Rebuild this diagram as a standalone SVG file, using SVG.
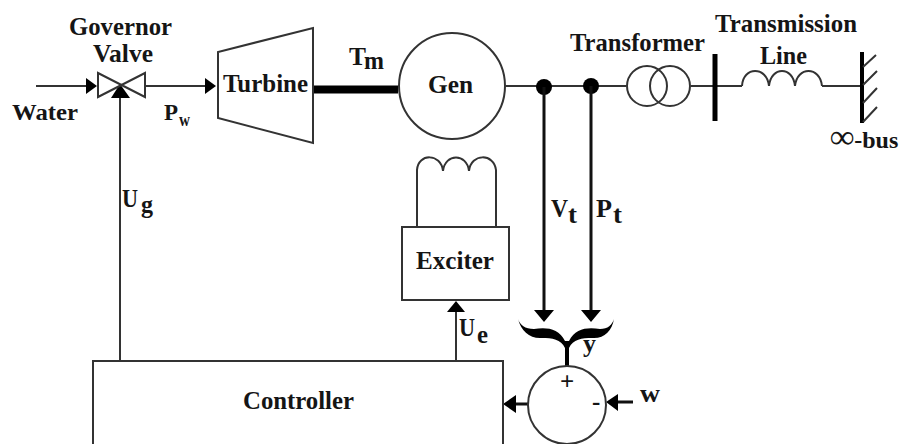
<svg xmlns="http://www.w3.org/2000/svg" width="901" height="444" viewBox="0 0 901 444">
<style>
.l{fill:none;stroke:#333;stroke-width:2}
.n{fill:#fff;stroke:#333;stroke-width:2}
.t{fill:none;stroke:#111;stroke-width:3}
.a{fill:#000;stroke:none}
text{font-family:"Liberation Serif","Times New Roman",serif;font-weight:bold;fill:#151515;font-size:25px}
.s{font-size:18px}
.m{font-size:23px}
</style>
<defs>
<path id="hr" class="a" d="M0,0 L-11,-8 L-11,8 Z"/>
</defs>
<rect width="901" height="444" fill="#fff"/>
<g id="connectors">
<path class="l" d="M36,86H88M145,86H206"/>
<use href="#hr" x="97" y="86"/>
<use href="#hr" x="216" y="86"/>
<path d="M313,89.500H398" fill="none" stroke="#000" stroke-width="8"/>
<path class="l" d="M506,86H626M691,86H742M822,86H862"/>
<circle class="a" cx="544" cy="87" r="8"/>
<circle class="a" cx="591" cy="86" r="8"/>
<path class="t" d="M544,87V312M591,86V312"/>
<path class="a" d="M534,310H554L544,322Z M581,310H601L591,322Z"/>
<path class="l" d="M120,361V96"/>
<path class="a" d="M120,84L130,98H111Z"/>
<path class="l" d="M456,361V310"/>
<path class="a" d="M456,301L465,312H447Z"/>
<path class="a" d="M518,319C520,325 525,329 534,329C546,327 559,328 565,341L569,341C575,328 588,327 600,329C608,329 612,325 614,319C612,331 604,339 592,338C582,338 573,339 569,348V366H565V348C561,339 552,338 542,338C530,339 521,331 518,319Z"/>
<path class="t" d="M528,404H512M633,402H616"/>
<path class="a" d="M503,404L516,395V413Z M606,402L618,394V411Z"/>
</g>
<g id="valve">
<path class="l" d="M98,73L145,97V73L98,97Z"/>
<text x="69" y="35" textLength="103" lengthAdjust="spacingAndGlyphs">Governor</text>
<text x="93" y="62" textLength="60" lengthAdjust="spacingAndGlyphs">Valve</text>
</g>
<g id="water"><text class="m" x="12" y="120" textLength="66" lengthAdjust="spacingAndGlyphs">Water</text></g>
<g id="pw"><text class="m" x="164" y="120">P</text><text class="s" x="179" y="126" textLength="11" lengthAdjust="spacingAndGlyphs">w</text></g>
<g id="turbine">
<path class="l" d="M218,118V52L313,28V143Z"/>
<text x="223" y="92" textLength="85" lengthAdjust="spacingAndGlyphs">Turbine</text>
</g>
<g id="tm"><text x="349" y="65" textLength="17" lengthAdjust="spacingAndGlyphs">T</text><text x="364" y="69" textLength="20" lengthAdjust="spacingAndGlyphs">m</text></g>
<g id="generator">
<circle class="n" cx="452" cy="86" r="53"/>
<text x="428" y="93" textLength="45" lengthAdjust="spacingAndGlyphs">Gen</text>
</g>
<g id="transformer">
<circle class="l" cx="647" cy="86" r="20"/>
<circle class="l" cx="670" cy="86" r="20"/>
<text x="570" y="51" textLength="135" lengthAdjust="spacingAndGlyphs">Transformer</text>
</g>
<g id="bus"><path d="M715,54V121" fill="none" stroke="#000" stroke-width="5"/></g>
<g id="line">
<path class="l" d="M742,86C743,66 767,66 769,86C771,66 793,66 795,86C797,66 820,66 822,86"/>
<text x="715" y="32" textLength="142" lengthAdjust="spacingAndGlyphs">Transmission</text>
<text x="760" y="64" textLength="47" lengthAdjust="spacingAndGlyphs">Line</text>
</g>
<g id="infinite-bus">
<path d="M862,52V123" fill="none" stroke="#000" stroke-width="4"/>
<path class="l" d="M863,67L876,55M863,85L877,71M863,103L877,88M863,122L877,107"/>
<text x="830" y="148" style="font-size:24px"><tspan style="font-size:34px">∞</tspan>-bus</text>
</g>
<g id="exciter">
<path class="l" d="M417,227V170C418,153 441,153 443,171C445,153 467,153 469,171C471,153 494,153 496,170V227"/>
<rect class="n" x="402" y="227" width="107" height="73"/>
<text x="416" y="269" textLength="78" lengthAdjust="spacingAndGlyphs">Exciter</text>
</g>
<g id="controller">
<path class="n" d="M93,445V361H503V445"/>
<text x="243" y="409" textLength="111" lengthAdjust="spacingAndGlyphs">Controller</text>
</g>
<g id="sum">
<circle class="n" cx="567" cy="405" r="39"/>
<text x="560" y="390">+</text>
<text x="592" y="410">-</text>
</g>
<g id="labels">
<text x="122" y="207" textLength="16" lengthAdjust="spacingAndGlyphs">U</text><text x="141" y="213" textLength="12" lengthAdjust="spacingAndGlyphs">g</text>
<text x="459" y="336" textLength="16" lengthAdjust="spacingAndGlyphs">U</text><text x="477" y="343" textLength="11" lengthAdjust="spacingAndGlyphs">e</text>
<text x="551" y="217" textLength="17" lengthAdjust="spacingAndGlyphs">V</text><text x="568" y="223" textLength="9" lengthAdjust="spacingAndGlyphs">t</text>
<text x="596" y="217" textLength="16" lengthAdjust="spacingAndGlyphs">P</text><text x="613" y="223" textLength="9" lengthAdjust="spacingAndGlyphs">t</text>
<text x="583" y="352" textLength="13" lengthAdjust="spacingAndGlyphs">y</text>
<text x="640" y="402" textLength="20" lengthAdjust="spacingAndGlyphs">w</text>
</g>
</svg>
